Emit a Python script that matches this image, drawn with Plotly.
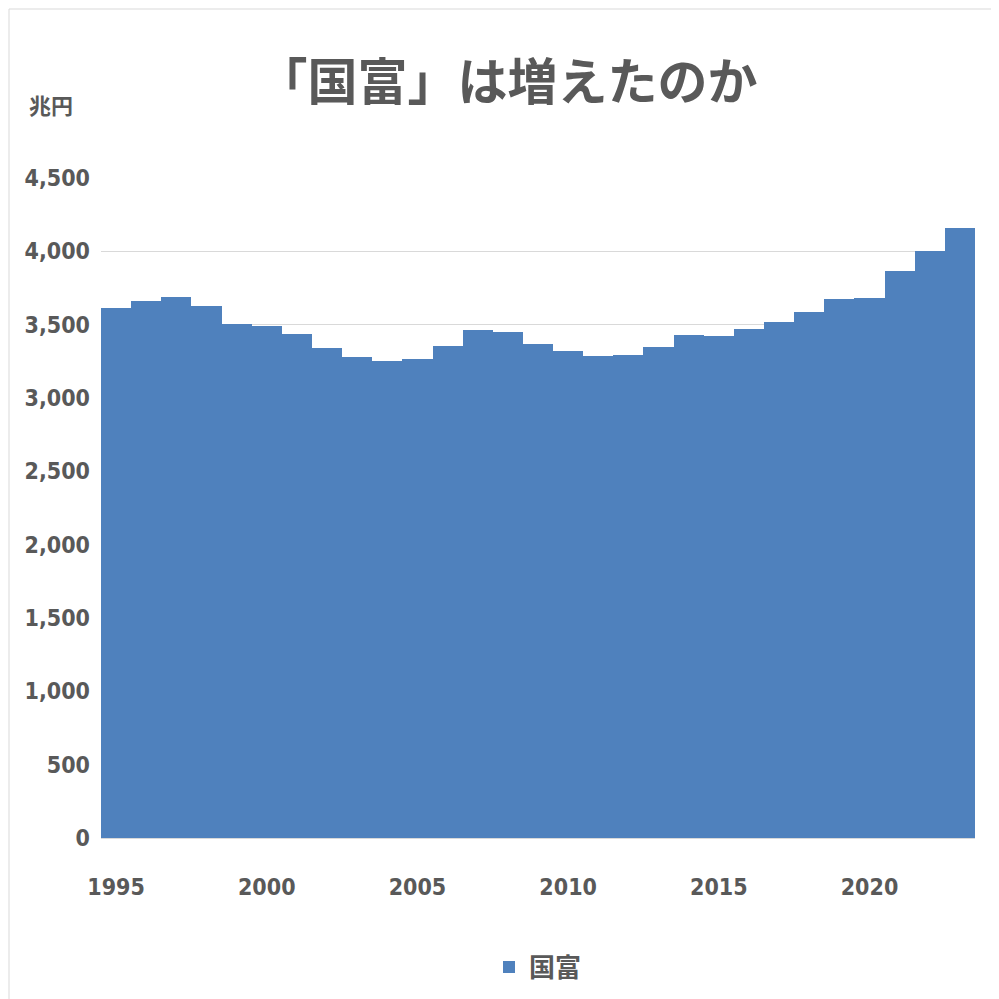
import plotly.graph_objects as go

years = list(range(1995, 2024))
wealth = [3613, 3661, 3688, 3627, 3504, 3490, 3436, 3340, 3279, 3252,
          3265, 3354, 3463, 3449, 3368, 3320, 3286, 3293, 3347, 3429,
          3422, 3470, 3517, 3586, 3674, 3681, 3865, 4001, 4158]
y_ticks = [0, 500, 1000, 1500, 2000, 2500, 3000, 3500, 4000, 4500]
x_ticks = [1995, 2000, 2005, 2010, 2015, 2020]

tick_font = dict(family="DejaVu Sans Condensed, Liberation Sans", size=23, color="#595959", weight="bold")

fig = go.Figure(go.Bar(
    x=years, y=wealth, name="国富",
    marker=dict(color="#4F81BD", line=dict(width=0)),
    width=1.0,
))

fig.update_layout(
    width=999, height=999,
    paper_bgcolor="white", plot_bgcolor="white",
    margin=dict(l=93, r=32, t=170, b=169, autoexpand=False),
    bargap=0,
    title=dict(text="<b>「国富」は増えたのか</b>", x=0.5, xanchor="center", y=0.925, yanchor="middle",
               font=dict(family="Noto Sans CJK JP", size=50, color="#595959")),
    xaxis=dict(tickmode="array", tickvals=x_ticks, ticktext=[str(v) for v in x_ticks],
               range=[1994.5, 2023.5], showgrid=False, showline=True, linecolor="#D9D9D9",
               ticks="", tickfont=tick_font, automargin=False, ticklabelstandoff=28),
    yaxis=dict(tickmode="array", tickvals=y_ticks, ticktext=[f"{v:,}" for v in y_ticks],
               range=[0, 4500], showgrid=True, gridcolor="#D9D9D9", zeroline=False,
               ticks="", tickfont=tick_font, automargin=False, ticklabelstandoff=10),
    showlegend=True,
    legend=dict(orientation="h", x=0.5, xanchor="center", y=-0.16, yanchor="top",
                font=dict(family="Noto Sans CJK JP", size=26, color="#595959", weight="bold")),
    annotations=[dict(text="<b>兆円</b>", xref="paper", yref="paper", x=-0.085, y=1.085,
                      xanchor="left", yanchor="bottom", showarrow=False,
                      font=dict(family="Noto Sans CJK JP", size=22, color="#595959"))],
    shapes=[dict(type="rect", xref="paper", yref="paper",
                 x0=-92 / 874, x1=1 + 31 / 874, y0=-168 / 660, y1=1 + 169 / 660,
                 line=dict(color="#D9D9D9", width=1))],
)

fig.write_html("out.html")
